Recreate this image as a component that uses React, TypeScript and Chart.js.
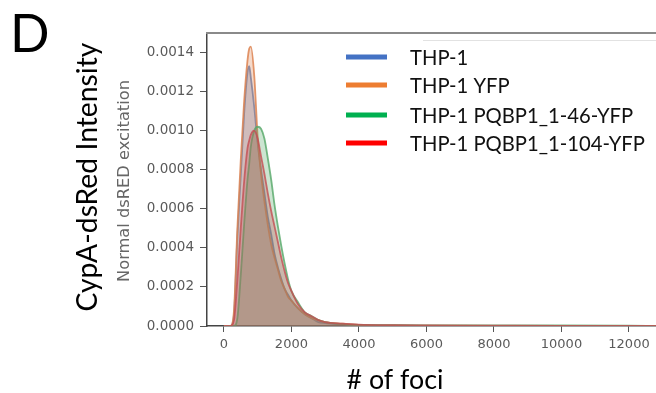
import React, { useEffect, useRef } from "react";
import { Chart, registerables } from "chart.js";

Chart.register(...registerables);

// Shared x grid (# of foci)
const FOCI = [0, 200, 300, 400, 500, 600, 700, 750, 800, 900, 1000, 1100, 1200, 1300, 1400, 1500, 1600, 1700, 1800, 1900, 2000, 2200, 2400, 2600, 2800, 3000, 3500, 4000, 5000, 6000, 8000, 10000, 12000, 12800];

const THP1 = [0, 0, 0.00006, 0.00046, 0.00077, 0.00109, 0.0013, 0.00133, 0.00127, 0.00112, 0.00094, 0.0008, 0.00068, 0.00056, 0.00047, 0.00037, 0.0003, 0.00024, 0.00019, 0.00016, 0.00013, 0.00009, 0.00006, 0.00004, 0.00002, 0.000015, 0.000008, 0.000004, 0.000002, 0.000001, 0, 0, 0, 0];
const THP1_YFP = [0, 0, 0.00008, 0.0005, 0.00085, 0.00115, 0.00136, 0.00142, 0.00143, 0.00128, 0.00097, 0.00078, 0.00064, 0.00052, 0.00042, 0.00035, 0.00029, 0.00023, 0.00019, 0.00015, 0.00013, 0.00009, 0.00006, 0.00004, 0.00003, 0.00002, 0.000012, 0.000006, 0.000003, 0.000002, 0.000001, 0, 0, 0];
const THP1_46 = [0, 0, 0, 0.00004, 0.00026, 0.00052, 0.00075, 0.00083, 0.00092, 0.001, 0.00102, 0.00101, 0.00096, 0.00086, 0.00075, 0.00062, 0.00051, 0.00041, 0.00032, 0.00024, 0.00018, 0.00012, 0.00007, 0.00005, 0.00003, 0.00002, 0.00001, 0.000006, 0.000004, 0.000003, 0.000003, 0.000003, 0.000002, 0];
const THP1_104 = [0, 0, 0.00003, 0.00024, 0.0005, 0.00074, 0.00091, 0.00095, 0.00098, 0.001, 0.00096, 0.00087, 0.00078, 0.00068, 0.00059, 0.00051, 0.00043, 0.00035, 0.00028, 0.00022, 0.00018, 0.00011, 0.00007, 0.00005, 0.00003, 0.00002, 0.000012, 0.000007, 0.000004, 0.000003, 0.000002, 0.000001, 0.000001, 0];

const SERIES_NAMES = ["THP-1", "THP-1 YFP", "THP-1 PQBP1_1-46-YFP", "THP-1 PQBP1_1-104-YFP"];
const SERIES_VALUES = [THP1, THP1_YFP, THP1_46, THP1_104];
const LINE_COLORS = ["rgba(76,114,176,0.75)", "rgba(221,132,82,0.85)", "rgba(85,168,104,0.8)", "rgba(196,78,82,0.8)"];
const FILL_COLORS = ["rgba(76,114,176,0.3)", "rgba(221,132,82,0.3)", "rgba(85,168,104,0.3)", "rgba(196,78,82,0.3)"];
const LEGEND_COLORS = ["#4472C4", "#ED7D31", "#00B050", "#FF0000"];

const X_TICKS = [0, 2000, 4000, 6000, 8000, 10000, 12000];
const Y_TICKS = [0, 0.0002, 0.0004, 0.0006, 0.0008, 0.001, 0.0012, 0.0014];

const TITLE_FONT = "Lato, 'Open Sans', sans-serif";
const TICK_FONT = "'DejaVu Sans', sans-serif";

function fitFont(ctx: CanvasRenderingContext2D, text: string, width: number, family: string, weight = "normal") {
  ctx.font = `${weight} 100px ${family}`;
  const w = ctx.measureText(text).width;
  return (100 * width) / w;
}

const decorPlugin = {
  id: "decor",
  afterDraw(chart: any) {
    const ctx: CanvasRenderingContext2D = chart.ctx;
    const { left, right, top } = chart.chartArea;
    ctx.save();
    // top frame
    ctx.strokeStyle = "#8a8a8a";
    ctx.lineWidth = 2;
    ctx.beginPath();
    ctx.moveTo(left - 1, top);
    ctx.lineTo(right, top);
    ctx.stroke();
    // faint legend box edge
    ctx.strokeStyle = "#e2e2e2";
    ctx.lineWidth = 1;
    ctx.beginPath();
    ctx.moveTo(423, 40.5);
    ctx.lineTo(656, 40.5);
    ctx.stroke();

    // legend
    const legSize = fitFont(ctx, SERIES_NAMES[3], 235, TITLE_FONT);
    ctx.font = `${legSize}px ${TITLE_FONT}`;
    ctx.textBaseline = "middle";
    ctx.textAlign = "left";
    const rows = [57, 85, 115, 143];
    SERIES_NAMES.forEach((name, i) => {
      ctx.fillStyle = LEGEND_COLORS[i];
      ctx.fillRect(346, rows[i] - 2.5, 41, 5);
      ctx.fillStyle = "#111";
      ctx.fillText(name, 410, rows[i] + 1);
    });

    // "D"
    ctx.fillStyle = "#000";
    ctx.textBaseline = "alphabetic";
    ctx.font = `52px ${TITLE_FONT}`;
    ctx.fillText("D", 10, 52);

    // x title
    const xs = fitFont(ctx, "# of foci", 97, TITLE_FONT);
    ctx.font = `${xs}px ${TITLE_FONT}`;
    ctx.textAlign = "center";
    ctx.textBaseline = "middle";
    ctx.fillText("# of foci", 395, 380);

    // y main title
    const ys = fitFont(ctx, "CypA-dsRed Intensity", 269, TITLE_FONT);
    ctx.save();
    ctx.translate(88, 177);
    ctx.rotate(-Math.PI / 2);
    ctx.font = `${ys}px ${TITLE_FONT}`;
    ctx.fillText("CypA-dsRed Intensity", 0, 0);
    ctx.restore();

    // y sub title
    const ss = fitFont(ctx, "Normal dsRED excitation", 202, TICK_FONT);
    ctx.save();
    ctx.translate(125, 181);
    ctx.rotate(-Math.PI / 2);
    ctx.font = `${ss}px ${TICK_FONT}`;
    ctx.fillStyle = "#666";
    ctx.fillText("Normal dsRED excitation", 0, 0);
    ctx.restore();

    ctx.restore();
  },
};

export default function App() {
  const ref = useRef<HTMLCanvasElement>(null);
  useEffect(() => {
    if (!ref.current) return;
    const datasets = SERIES_NAMES.map((name, i) => ({
      label: name,
      data: FOCI.map((x, j) => ({ x, y: SERIES_VALUES[i][j] })),
      borderColor: LINE_COLORS[i],
      backgroundColor: FILL_COLORS[i],
      borderWidth: 1.8,
      fill: "origin",
      pointRadius: 0,
      order: SERIES_NAMES.length - i,
      cubicInterpolationMode: "monotone" as const,
    }));
    const chart = new Chart(ref.current, {
      type: "line",
      data: { datasets },
      plugins: [decorPlugin],
      options: {
        animation: false,
        responsive: false,
        maintainAspectRatio: false,
        layout: { padding: { top: 33, right: 0, left: 0, bottom: 0 } },
        plugins: { legend: { display: false }, tooltip: { enabled: false } },
        scales: {
          x: {
            type: "linear",
            min: -500,
            max: 12800,
            afterBuildTicks: (s: any) => {
              s.ticks = X_TICKS.map((v) => ({ value: v }));
            },
            afterFit: (s: any) => {
              s.height = 67;
            },
            grid: { display: true, drawOnChartArea: false, drawTicks: true, tickLength: 6, color: "#555" },
            border: { display: true, color: "#444", width: 1.5 },
            ticks: {
              color: "#5a5a5a",
              font: { family: TICK_FONT, size: 13 },
              padding: 5,
              maxRotation: 0,
              autoSkip: false,
              callback: (v: any) => String(v),
            },
          },
          y: {
            type: "linear",
            min: 0,
            max: 0.0015,
            afterBuildTicks: (s: any) => {
              s.ticks = Y_TICKS.map((v) => ({ value: v }));
            },
            afterFit: (s: any) => {
              s.width = 207;
            },
            grid: { display: true, drawOnChartArea: false, drawTicks: true, tickLength: 7, color: "#555" },
            border: { display: true, color: "#444", width: 1.5 },
            ticks: {
              color: "#5a5a5a",
              font: { family: TICK_FONT, size: 13.5 },
              padding: 6,
              autoSkip: false,
              callback: (v: any) => Number(v).toFixed(4),
            },
          },
        },
      },
    });
    return () => chart.destroy();
  }, []);
  return (
    <div style={{ position: "fixed", left: 0, top: 0, width: 656, height: 393, background: "#fff" }}>
      <canvas ref={ref} width={656} height={393} style={{ width: 656, height: 393, display: "block" }} />
    </div>
  );
}
